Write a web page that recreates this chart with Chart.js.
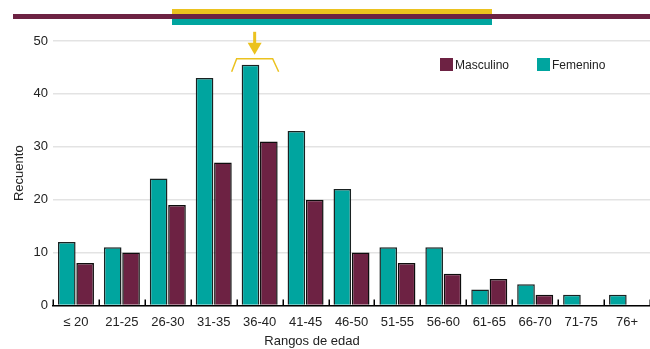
<!DOCTYPE html>
<html>
<head>
<meta charset="utf-8">
<script src="https://cdn.jsdelivr.net/npm/chart.js@4.4.1/dist/chart.umd.min.js"></script>
<style>
  html, body { margin: 0; padding: 0; background: #ffffff; }
  #wrap { width: 650px; height: 349px; }
</style>
</head>
<body>
<div id="wrap"><canvas id="c" width="650" height="349"></canvas></div>
<script>
// Age ranges and head counts per sex
const categories = ["≤ 20", "21-25", "26-30", "31-35", "36-40", "41-45", "46-50", "51-55", "56-60", "61-65", "66-70", "71-75", "76+"];
const femenino  = [12, 11, 24, 43, 45.5, 33, 22, 11, 11, 3, 4, 2, 2];
const masculino = [8, 10, 19, 27, 31, 20, 10, 8, 6, 5, 2, 0, 0];
const yTickValues = [0, 10, 20, 30, 40, 50];
const seriesNames = ["Femenino", "Masculino"];
const legendOrder = ["Masculino", "Femenino"];
const highlightCategory = "36-40";

const TEAL = "#00a59f";
const MAROON = "#6d2243";
const GOLD = "#ebc21f";
const FONT = "'Liberation Sans', Arial, Helvetica, sans-serif";
const TEXT = "#222222";

// Decorations: banner stripes, highlight marker, legend, x title, boundary ticks
const decorations = {
  id: "decorations",
  afterDraw(chart) {
    const ctx = chart.ctx;
    const x = chart.scales.x, y = chart.scales.y;
    const area = chart.chartArea;
    ctx.save();

    // banner stripes
    ctx.fillStyle = GOLD;   ctx.fillRect(172, 9, 320, 5);
    ctx.fillStyle = TEAL;   ctx.fillRect(172, 19, 320, 6);
    ctx.fillStyle = MAROON; ctx.fillRect(13, 14, 637, 5);

    // small upward ticks at category boundaries
    const half = (x.getPixelForValue(1) - x.getPixelForValue(0)) / 2;
    ctx.strokeStyle = "#000";
    ctx.lineWidth = 1.5;
    ctx.beginPath();
    for (let i = 0; i <= categories.length; i++) {
      const px = Math.round(x.getPixelForValue(i) - half) + 0.25;
      ctx.moveTo(px, area.bottom);
      ctx.lineTo(px, area.bottom - 6);
    }
    ctx.stroke();

    // highlight marker over the tallest group
    const hi = categories.indexOf(highlightCategory);
    const cx = x.getPixelForValue(hi) - 5;
    const top = y.getPixelForValue(femenino[hi]);
    ctx.strokeStyle = GOLD;
    ctx.lineWidth = 1.5;
    ctx.beginPath();
    ctx.moveTo(cx - 23, top + 7);
    ctx.lineTo(cx - 18, top - 6);
    ctx.lineTo(cx + 18, top - 6);
    ctx.lineTo(cx + 24, top + 7);
    ctx.stroke();
    ctx.lineWidth = 3;
    ctx.beginPath();
    ctx.moveTo(cx, top - 33);
    ctx.lineTo(cx, top - 20);
    ctx.stroke();
    ctx.fillStyle = GOLD;
    ctx.beginPath();
    ctx.moveTo(cx - 7, top - 22);
    ctx.lineTo(cx + 7, top - 22);
    ctx.lineTo(cx, top - 10);
    ctx.closePath();
    ctx.fill();

    // legend
    ctx.font = "12px " + FONT;
    ctx.textBaseline = "middle";
    ctx.textAlign = "left";
    let lx = 440;
    legendOrder.forEach((name) => {
      const ds = chart.data.datasets.find(d => d.label === name);
      ctx.fillStyle = ds.backgroundColor;
      ctx.fillRect(lx, 58, 13, 13);
      ctx.fillStyle = TEXT;
      ctx.fillText(name, lx + 15, 66);
      lx += 97;
    });

    // x axis title
    ctx.font = "13px " + FONT;
    ctx.textAlign = "center";
    ctx.fillStyle = TEXT;
    ctx.fillText("Rangos de edad", 312, 341);

    ctx.restore();
  }
};

new Chart(document.getElementById("c"), {
  type: "bar",
  data: {
    labels: categories,
    datasets: [
      { label: seriesNames[0], data: femenino, backgroundColor: TEAL, borderColor: "#1a2222", borderWidth: 1.5 },
      { label: seriesNames[1], data: masculino, backgroundColor: MAROON, borderColor: "#0d0d0d", borderWidth: 1.5 }
    ]
  },
  options: {
    responsive: false,
    animation: false,
    events: [],
    layout: { padding: { top: 41, right: 0, bottom: 10, left: 0 } },
    datasets: { bar: { categoryPercentage: 0.8, barPercentage: 0.96 } },
    plugins: { legend: { display: false }, tooltip: { enabled: false } },
    scales: {
      x: {
        grid: { display: false, drawTicks: false },
        border: { display: true, color: "#000", width: 1.5 },
        ticks: { color: TEXT, font: { family: FONT, size: 13 }, padding: 9, maxRotation: 0, autoSkip: false }
      },
      y: {
        min: 0, max: 50,
        afterBuildTicks: (s) => { s.ticks = yTickValues.map(v => ({ value: v })); },
        afterFit: (s) => { s.width = 53; },
        grid: { color: "#e3e3e3", lineWidth: 1.5, drawTicks: false },
        border: { display: false },
        ticks: { color: TEXT, font: { family: FONT, size: 13 }, padding: 5 },
        title: { display: true, text: "Recuento", color: TEXT, font: { family: FONT, size: 13 }, padding: { top: 12, bottom: 0 } }
      }
    }
  },
  plugins: [decorations]
});
</script>
</body>
</html>
